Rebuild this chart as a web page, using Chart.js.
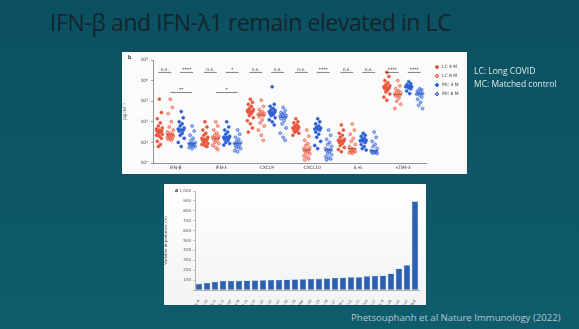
<!DOCTYPE html>
<html>
<head>
<meta charset="utf-8">
<script src="https://cdn.jsdelivr.net/npm/chart.js@4.4.1/dist/chart.umd.min.js"></script>
<style>
  html,body{margin:0;padding:0;}
  #slide{position:relative;width:579px;height:329px;overflow:hidden;
    background:linear-gradient(180deg,#0b5061 0%,#0d5767 55%,#0f5c6c 100%);font-family:"Open Sans",sans-serif;}
  #title{position:absolute;left:50px;top:6px;font-size:23px;color:#15252b;white-space:nowrap;letter-spacing:-0.4px;}
  .panel{position:absolute;background:#fbfbfb;box-shadow:0 0 1px rgba(0,0,0,0.4);}
  #p1{left:122px;top:52px;width:345px;height:122px;}
  #p2{left:164px;top:184px;width:262px;height:121px;background:linear-gradient(180deg,#ffffff,#f1f3f4);}
  .panel canvas{position:absolute;left:0;top:0;}
  .tag{position:absolute;font-size:5px;font-weight:bold;color:#222;}
  #note{position:absolute;left:474px;top:64px;color:#dde8ea;font-size:8.5px;line-height:13px;white-space:nowrap;}
  #cite{position:absolute;left:351px;top:311px;color:#b7c6cb;font-size:9.6px;white-space:nowrap;}
  #legend{position:absolute;left:313px;top:10px;font-size:4.5px;color:#444;line-height:9px;font-family:"DejaVu Sans",sans-serif;}
  #legend span.m{display:inline-block;width:4px;height:4px;border-radius:50%;margin-right:3px;vertical-align:middle;box-sizing:border-box;}
</style>
</head>
<body>
<div id="slide">
  <div id="title">IFN-β and IFN-λ1 remain elevated in LC</div>
  <div class="panel" id="p1">
    <canvas id="c1" width="345" height="122"></canvas>
    <div class="tag" style="left:6px;top:2px;">b</div>
    <div id="legend"></div>
  </div>
  <div class="panel" id="p2">
    <canvas id="c2" width="262" height="121"></canvas>
    <div class="tag" style="left:11px;top:3px;">a</div>
  </div>
  <div id="note">LC: Long COVID<br>MC: Matched control</div>
  <div id="cite">Phetsouphanh et al Nature Immunology (2022)</div>
</div>
<script>
// ---------- Panel b: analyte levels (log10 pg/ml), one list per analyte ----------
const analytes = ["IFN-β", "IFN-λ", "CXCL9", "CXCL10", "IL-6", "sTIM-3"];
const seriesNames = ["LC 4 M", "LC 8 M", "MC 4 M", "MC 8 M"];
const yTickExponents = [0, 1, 2, 3, 4, 5];

const lc4m = [
  [3.1, 2.45, 2.15, 1.95, 1.8, 1.7, 1.65, 1.6, 1.55, 1.55, 1.5, 1.45, 1.4, 1.35, 1.3, 1.2, 1.05, 0.9, 0.8],
  [2.0, 1.75, 1.6, 1.45, 1.35, 1.25, 1.2, 1.15, 1.15, 1.1, 1.05, 1.0, 0.95, 0.9, 0.85, 0.8],
  [3.1, 2.95, 2.85, 2.75, 2.65, 2.6, 2.55, 2.5, 2.5, 2.45, 2.4, 2.3, 2.2, 2.05, 1.9, 1.7, 1.5],
  [2.15, 2.0, 1.95, 1.85, 1.8, 1.75, 1.7, 1.7, 1.65, 1.6, 1.55, 1.5, 1.45, 1.35],
  [1.85, 1.6, 1.45, 1.35, 1.25, 1.15, 1.1, 1.08, 1.05, 1.0, 0.95, 0.85, 0.75, 0.65, 0.55],
  [4.4, 4.2, 4.0, 3.9, 3.8, 3.75, 3.7, 3.65, 3.65, 3.6, 3.55, 3.45, 3.35, 3.2, 3.05]
];
const lc8m = [
  [3.1, 2.7, 2.4, 2.0, 1.75, 1.6, 1.5, 1.45, 1.4, 1.35, 1.35, 1.3, 1.3, 1.25, 1.2, 1.2, 1.15, 1.1],
  [2.0, 1.8, 1.6, 1.45, 1.35, 1.3, 1.25, 1.2, 1.2, 1.15, 1.1, 1.0, 0.95, 0.85, 0.75, 0.65],
  [3.05, 2.75, 2.6, 2.5, 2.45, 2.4, 2.37, 2.35, 2.3, 2.25, 2.1, 1.95, 1.8, 1.6, 1.35, 1.1],
  [1.6, 1.3, 1.1, 0.95, 0.85, 0.75, 0.7, 0.65, 0.63, 0.6, 0.55, 0.5, 0.45, 0.35, 0.3, 0.2, 0.15],
  [1.9, 1.6, 1.4, 1.2, 1.05, 0.9, 0.8, 0.7, 0.65, 0.63, 0.6, 0.55, 0.55, 0.5, 0.47],
  [4.0, 3.75, 3.6, 3.5, 3.45, 3.4, 3.35, 3.3, 3.3, 3.25, 3.15, 3.0, 2.85, 2.65]
];
const mc4m = [
  [2.5, 2.2, 2.0, 1.9, 1.8, 1.7, 1.65, 1.6, 1.6, 1.55, 1.45, 1.35, 1.2, 1.0, 0.8],
  [2.0, 1.75, 1.6, 1.5, 1.4, 1.3, 1.25, 1.25, 1.2, 1.15, 1.1, 1.0, 0.95, 0.87],
  [3.7, 2.85, 2.75, 2.65, 2.6, 2.55, 2.5, 2.45, 2.45, 2.4, 2.35, 2.3, 2.2, 2.1, 2.0, 1.85],
  [2.15, 2.0, 1.9, 1.8, 1.75, 1.7, 1.65, 1.65, 1.6, 1.5, 1.4, 1.25, 1.05, 0.85, 0.7],
  [1.45, 1.35, 1.3, 1.2, 1.15, 1.1, 1.08, 1.05, 1.0, 0.9, 0.8, 0.7, 0.63],
  [3.95, 3.85, 3.8, 3.75, 3.72, 3.7, 3.7, 3.65, 3.6, 3.5, 3.37]
];
const mc8m = [
  [1.8, 1.55, 1.35, 1.2, 1.1, 1.0, 0.95, 0.95, 0.9, 0.9, 0.85, 0.85, 0.8, 0.75, 0.7],
  [1.6, 1.4, 1.25, 1.15, 1.05, 1.0, 0.95, 0.95, 0.9, 0.85, 0.8, 0.75, 0.7, 0.6, 0.55],
  [2.7, 2.55, 2.45, 2.4, 2.35, 2.3, 2.28, 2.25, 2.2, 2.15, 2.05, 1.9, 1.7, 1.45, 1.25, 1.1],
  [1.6, 1.35, 1.15, 1.0, 0.9, 0.8, 0.7, 0.65, 0.63, 0.6, 0.55, 0.45, 0.4, 0.3, 0.25, 0.2, 0.15],
  [1.5, 1.25, 1.05, 0.9, 0.8, 0.7, 0.6, 0.55, 0.55, 0.5, 0.5, 0.5, 0.47],
  [3.6, 3.55, 3.5, 3.45, 3.4, 3.37, 3.35, 3.3, 3.2, 3.1, 2.95, 2.8, 2.65]
];
// 4M vs 8M comparisons (LC pair, MC pair) per analyte
const withinLabels = ["n.s.", "****", "n.s.", "*", "n.s.", "n.s.", "n.s.", "****", "n.s.", "n.s.", "****", "****"];
// LC 8M vs MC 8M brackets: [analyte index, label]
const betweenLabels = [[0, "**"], [1, "*"]];

// ---------- Panel a: bar chart ----------
const barLabels = ["IL-4","IL-13","IL-5","IL-2","GM-CSF","IL-12p70","IL-17A","IL-17F","IL-21","IL-22","IFN-α2","IL-1β","IL-10","TNF","IL-33","IL-23","IL-18","IL-27","IFN-γ","CCL2","CCL11","CXCL5","CCL17","IL-8","CCL20","IFN-λ2","IFN-λ1","IFN-β"];
const barValues = [60,70,82,90,92,93,94,96,98,100,102,104,106,108,110,113,116,120,125,128,130,140,142,145,165,215,250,895];
const barYTicks = [0,100,200,300,400,500,600,700,800,900,1000];

// ---------- build ----------
const offsets = [-0.36, -0.12, 0.12, 0.36];
const styles = [
  {bg:"#e8553c", border:"#e8553c"},
  {bg:"rgba(240,120,95,0.55)", border:"#e8553c"},
  {bg:"#2d5fd4", border:"#2d5fd4"},
  {bg:"rgba(90,130,225,0.55)", border:"#2d5fd4"}
];
const groups = [lc4m, lc8m, mc4m, mc8m];
const jit = [0, 0.045, -0.045, 0.022, -0.022, 0.065, -0.065];
function median(a){const s=[...a].sort((x,y)=>x-y);const n=s.length;return n%2?s[(n-1)/2]:(s[n/2-1]+s[n/2])/2;}

const datasets = [];
groups.forEach((g, si) => {
  const pts = [];
  g.forEach((vals, ci) => vals.forEach((v, i) => pts.push({x: ci + offsets[si] + jit[i % jit.length], y: Math.pow(10, v)})));
  datasets.push({label: seriesNames[si], data: pts, pointRadius: 1.5, pointBorderWidth: 0.6,
    backgroundColor: styles[si].bg, borderColor: styles[si].border, showLine: false});
});
groups.forEach((g, si) => {
  datasets.push({label: "median", data: g.map((vals, ci) => ({x: ci + offsets[si], y: Math.pow(10, median(vals))})),
    pointStyle: "line", pointRadius: 4, borderColor: "#111", borderWidth: 0.9, showLine: false});
});

// legend
const lg = document.getElementById("legend");
seriesNames.forEach((n, i) => {
  const d = document.createElement("div");
  d.innerHTML = '<span class="m" style="background:' + styles[i].bg + ';border:0.7px solid ' + styles[i].border + '"></span>' + n;
  lg.appendChild(d);
});

const sup = {"0":"⁰","1":"¹","2":"²","3":"³","4":"⁴","5":"⁵"};
const annot = {
  id: "annot",
  afterDatasetsDraw(chart) {
    const ctx = chart.ctx, xs = chart.scales.x, ys = chart.scales.y;
    ctx.save();
    ctx.fillStyle = "#333"; ctx.strokeStyle = "#333"; ctx.lineWidth = 0.6;
    ctx.font = "4.5px 'DejaVu Sans'"; ctx.textAlign = "center"; ctx.textBaseline = "bottom";
    const yTop = ys.getPixelForValue(Math.pow(10, 4.42));
    withinLabels.forEach((t, k) => {
      const ci = Math.floor(k / 2), p = k % 2;
      const x1 = xs.getPixelForValue(ci + offsets[p * 2]), x2 = xs.getPixelForValue(ci + offsets[p * 2 + 1]);
      ctx.beginPath(); ctx.moveTo(x1 - 1, yTop + 0.5); ctx.lineTo(x2 + 1, yTop + 0.5); ctx.stroke();
      ctx.fillText(t, (x1 + x2) / 2, yTop - 0.3);
    });
    const yB = ys.getPixelForValue(Math.pow(10, 3.42));
    betweenLabels.forEach(([ci, t]) => {
      const x1 = xs.getPixelForValue(ci + offsets[1]), x2 = xs.getPixelForValue(ci + offsets[3]);
      ctx.beginPath(); ctx.moveTo(x1, yB); ctx.lineTo(x2, yB); ctx.stroke();
      ctx.fillText(t, (x1 + x2) / 2, yB - 0.5);
    });
    ctx.restore();
  }
};

new Chart(document.getElementById("c1"), {
  type: "scatter",
  data: {datasets},
  plugins: [annot],
  options: {
    responsive: false, animation: false, events: [],
    layout: {padding: {top: 8, right: 41, left: 0, bottom: 0}},
    plugins: {legend: {display: false}, tooltip: {enabled: false}},
    scales: {
      x: {type: "linear", min: -0.5, max: 5.5,
        afterBuildTicks: s => { s.ticks = analytes.map((a, i) => ({value: i})); },
        afterFit: s => { s.height = 11; },
        grid: {display: false, drawTicks: false},
        border: {color: "#666", width: 0.7},
        ticks: {callback: v => analytes[v], font: {size: 4.5, family: "DejaVu Sans"}, color: "#333", padding: 2, maxRotation: 0}},
      y: {type: "logarithmic", min: 1, max: 100000,
        afterBuildTicks: s => { s.ticks = yTickExponents.map(e => ({value: Math.pow(10, e), major: true})); },
        afterFit: s => { s.width = 31; },
        grid: {display: true, drawOnChartArea: false, tickLength: 2, color: "#666", lineWidth: 0.6},
        border: {color: "#666", width: 0.7},
        title: {display: true, text: "pg ml⁻¹", font: {size: 4.5, family: "DejaVu Sans"}, color: "#333", padding: 0},
        ticks: {callback: v => "10" + sup[String(Math.round(Math.log10(v)))], font: {size: 4.5, family: "DejaVu Sans"}, color: "#333", padding: 3}}
    }
  }
});

new Chart(document.getElementById("c2"), {
  type: "bar",
  data: {labels: barLabels, datasets: [{data: barValues, backgroundColor: "#2d60ae", borderColor: "#22508f", borderWidth: 0.4, barPercentage: 0.78, categoryPercentage: 1}]},
  options: {
    responsive: false, animation: false, events: [],
    layout: {padding: {top: 7, right: 7, left: 0, bottom: 0}},
    plugins: {legend: {display: false}, tooltip: {enabled: false}},
    scales: {
      x: {afterFit: s => { s.height = 15; },
        grid: {display: false}, border: {color: "#888", width: 0.6},
        ticks: {autoSkip: false, minRotation: 60, maxRotation: 60, font: {size: 3.5, family: "DejaVu Sans"}, color: "#555", padding: 1}},
      y: {min: 0, max: 1000,
        afterBuildTicks: s => { s.ticks = barYTicks.map(v => ({value: v})); },
        afterFit: s => { s.width = 31; },
        grid: {display: true, drawOnChartArea: false, tickLength: 2, color: "#888", lineWidth: 0.5},
        border: {color: "#888", width: 0.6},
        title: {display: true, text: "Variable importance (%)", font: {size: 4, family: "DejaVu Sans"}, color: "#444", padding: 0},
        ticks: {callback: v => v === 0 ? "" : v.toLocaleString("en-US"), font: {size: 4, family: "DejaVu Sans"}, color: "#555", padding: 2}}
    }
  }
});
</script>
</body>
</html>
